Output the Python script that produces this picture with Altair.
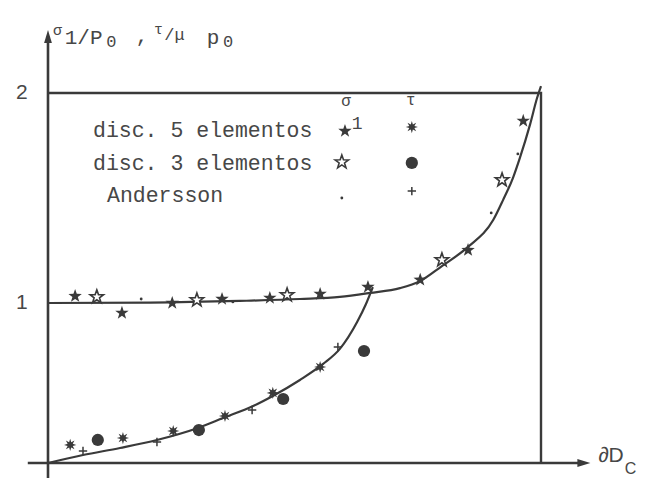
import altair as alt
import pandas as pd

# ---------------- data ----------------
# x: position along the contact zone (0 = centre, 1 = edge of ∂D_C)
# y: sigma_1/p0 (upper family) and tau/(mu p0) (lower family)

# sigma_1, discretisation with 5 elements (filled stars)
sigma5_x = [0.055, 0.150, 0.252, 0.353, 0.450, 0.552, 0.649, 0.755, 0.852, 0.964]
sigma5_y = [1.033, 0.938, 1.000, 1.019, 1.024, 1.043, 1.076, 1.110, 1.252, 1.867]

# sigma_1, discretisation with 3 elements (open stars)
sigma3_x = [0.099, 0.302, 0.485, 0.799, 0.921]
sigma3_y = [1.029, 1.014, 1.038, 1.205, 1.586]

# sigma_1, Andersson (dots)
sigmaA_x = [0.189, 0.375, 0.899, 0.953]
sigmaA_y = [1.019, 1.005, 1.429, 1.710]

# tau, discretisation with 5 elements (asterisks)
tau5_x = [0.045, 0.152, 0.254, 0.359, 0.456, 0.552]
tau5_y = [0.113, 0.156, 0.200, 0.294, 0.438, 0.600]

# tau, discretisation with 3 elements (discs)
tau3_x = [0.101, 0.306, 0.477, 0.641]
tau3_y = [0.144, 0.206, 0.400, 0.700]

# tau, Andersson (crosses)
tauA_x = [0.071, 0.221, 0.414, 0.588]
tauA_y = [0.075, 0.131, 0.331, 0.725]

# analytical curves
sigma_curve_x = [0.0, 0.207, 0.389, 0.511, 0.592, 0.653, 0.714, 0.755, 0.799,
                 0.852, 0.903, 0.923, 0.943, 0.957, 0.978, 0.992, 1.0]
sigma_curve_y = [1.0, 1.002, 1.010, 1.019, 1.029, 1.048, 1.071, 1.105, 1.176,
                 1.267, 1.395, 1.490, 1.595, 1.690, 1.852, 1.976, 2.033]
tau_curve_x = [0.0, 0.071, 0.146, 0.221, 0.304, 0.355, 0.416, 0.456, 0.511,
               0.558, 0.592, 0.627, 0.645, 0.659]
tau_curve_y = [0.0, 0.050, 0.094, 0.144, 0.219, 0.281, 0.356, 0.419, 0.519,
               0.619, 0.713, 0.881, 0.994, 1.076]

# axis ticks and texts
tick_values = [1, 2]
tick_labels = ["1", "2"]
legend_labels = ["disc. 5 elementos", "disc. 3 elementos", "Andersson"]

# ---------------- styling ----------------
INK = "#3a3a3a"
TEXT = "#474747"
MONO = "Liberation Mono"
SANS = "Liberation Sans"

W, H = 493, 370
X_SCALE = alt.Scale(domain=[0, 1], nice=False, zero=False)
# the drawing uses a tighter spacing between 0 and 1 than between 1 and 2
Y_SCALE = alt.Scale(domain=[0, 1, 2], range=[H, H - 160, H - 370], nice=False, zero=False)

STAR5 = ("M0,-1L0.235,-0.324L0.951,-0.309L0.380,0.124L0.588,0.809L0,0.4"
         "L-0.588,0.809L-0.380,0.124L-0.951,-0.309L-0.235,-0.324Z")
STAR8 = ("M1,0L0.416,0.172L0.707,0.707L0.172,0.416L0,1L-0.172,0.416L-0.707,0.707"
         "L-0.416,0.172L-1,0L-0.416,-0.172L-0.707,-0.707L-0.172,-0.416L0,-1"
         "L0.172,-0.416L0.707,-0.707L0.416,-0.172Z")
PLUS = "M-1,0L1,0M0,-1L0,1"
ARROW_UP = "M0,-1L0.6,1L-0.6,1Z"
ARROW_RIGHT = "M1,0L-1,-0.6L-1,0.6Z"


def enc(**extra):
    return dict(
        x=alt.X("x:Q", scale=X_SCALE, axis=None),
        y=alt.Y("y:Q", scale=Y_SCALE, axis=None),
        **extra,
    )


def frame(xs, ys):
    return pd.DataFrame({"x": xs, "y": ys})


def points(xs, ys, **mark):
    return alt.Chart(frame(xs, ys)).mark_point(opacity=1, **mark).encode(**enc())


def texts(rows, size, font=MONO, align="left", baseline="alphabetic"):
    df = pd.DataFrame(rows, columns=["x", "y", "t"])
    return alt.Chart(df).mark_text(
        font=font, fontSize=size, color=TEXT, align=align, baseline=baseline
    ).encode(**enc(text="t:N"))


def line(xs, ys, width=2.0, interpolate="linear"):
    df = frame(xs, ys)
    df["o"] = range(len(df))
    return alt.Chart(df).mark_line(
        color=INK, strokeWidth=width, interpolate=interpolate
    ).encode(**enc(order="o:Q"))


# styles of each series
filled_star = dict(shape=STAR5, filled=True, color=INK, size=200)
open_star = dict(shape=STAR5, filled=True, fill="white", stroke=INK, strokeWidth=1.6, size=200)
dot = dict(shape="circle", filled=True, color=INK, size=8)
asterisk = dict(shape=STAR8, filled=True, color=INK, size=150)
disc = dict(shape="circle", filled=True, color=INK, size=150)
cross = dict(shape=PLUS, filled=False, color=INK, strokeWidth=1.5, size=70)

# ---------------- frame, axes ----------------
y_axis = line([0, 0], [-0.094, 2.243], width=2.6)
x_axis = line([-0.041, 1.083], [0, 0], width=2.6)
box = line([0, 1, 1], [2, 2, 0], width=2.4)
arrow_up = points([0], [2.269], shape=ARROW_UP, filled=True, color=INK, size=169)
arrow_right = points([1.087], [0], shape=ARROW_RIGHT, filled=True, color=INK, size=169)

tick_text = texts([(-0.053, v, s) for v, s in zip(tick_values, tick_labels)],
                  21, font=SANS, align="center", baseline="middle")

y_title = alt.layer(
    texts([(0.010, 2.276, "σ"), (0.215, 2.281, "τ")], 15),
    texts([(0.034, 2.233, "1/P"), (0.178, 2.243, ","), (0.322, 2.233, "p")], 21),
    texts([(0.236, 2.253, "/μ")], 17),
    texts([(0.118, 2.219, "0"), (0.355, 2.219, "0")], 17),
)

x_title = alt.layer(
    texts([(1.116, 0.006, "∂D")], 21, font=SANS),
    texts([(1.170, -0.066, "C")], 16, font=SANS),
)

# ---------------- legend ----------------
legend_rows = [(0.0913, 1.790), (0.0913, 1.633), (0.1197, 1.481)]
legend_text = texts([(x, y, s) for (x, y), s in zip(legend_rows, legend_labels)], 21.5)
legend_head = alt.layer(
    texts([(0.6045, 1.962, "σ"), (0.736, 1.967, "τ")], 16, align="center", baseline="middle"),
    texts([(0.627, 1.852, "1")], 18, align="center", baseline="middle"),
)
legend_marks = alt.layer(
    points([0.6024], [1.819], **filled_star),
    points([0.738], [1.838], **asterisk),
    points([0.596], [1.671], **open_star),
    points([0.738], [1.667], **disc),
    points([0.596], [1.500], **dot),
    points([0.738], [1.533], **cross),
)

# ---------------- curves and results ----------------
sigma_line = line(sigma_curve_x, sigma_curve_y, width=2.2, interpolate="monotone")
tau_line = line(tau_curve_x, tau_curve_y, width=2.2, interpolate="monotone")

chart = alt.layer(
    box, y_axis, x_axis, arrow_up, arrow_right,
    sigma_line, tau_line,
    points(sigma5_x, sigma5_y, **filled_star),
    points(sigma3_x, sigma3_y, **open_star),
    points(sigmaA_x, sigmaA_y, **dot),
    points(tau5_x, tau5_y, **asterisk),
    points(tau3_x, tau3_y, **disc),
    points(tauA_x, tauA_y, **cross),
    tick_text, y_title, x_title, legend_text, legend_head, legend_marks,
).properties(
    width=W,
    height=H,
    autosize=alt.AutoSizeParams(type="none"),
    padding={"left": 48, "top": 93, "right": 104, "bottom": 16},
    background="white",
).configure_view(stroke=None)

chart.save("out.html", embed_options={"renderer": "svg", "actions": False})
